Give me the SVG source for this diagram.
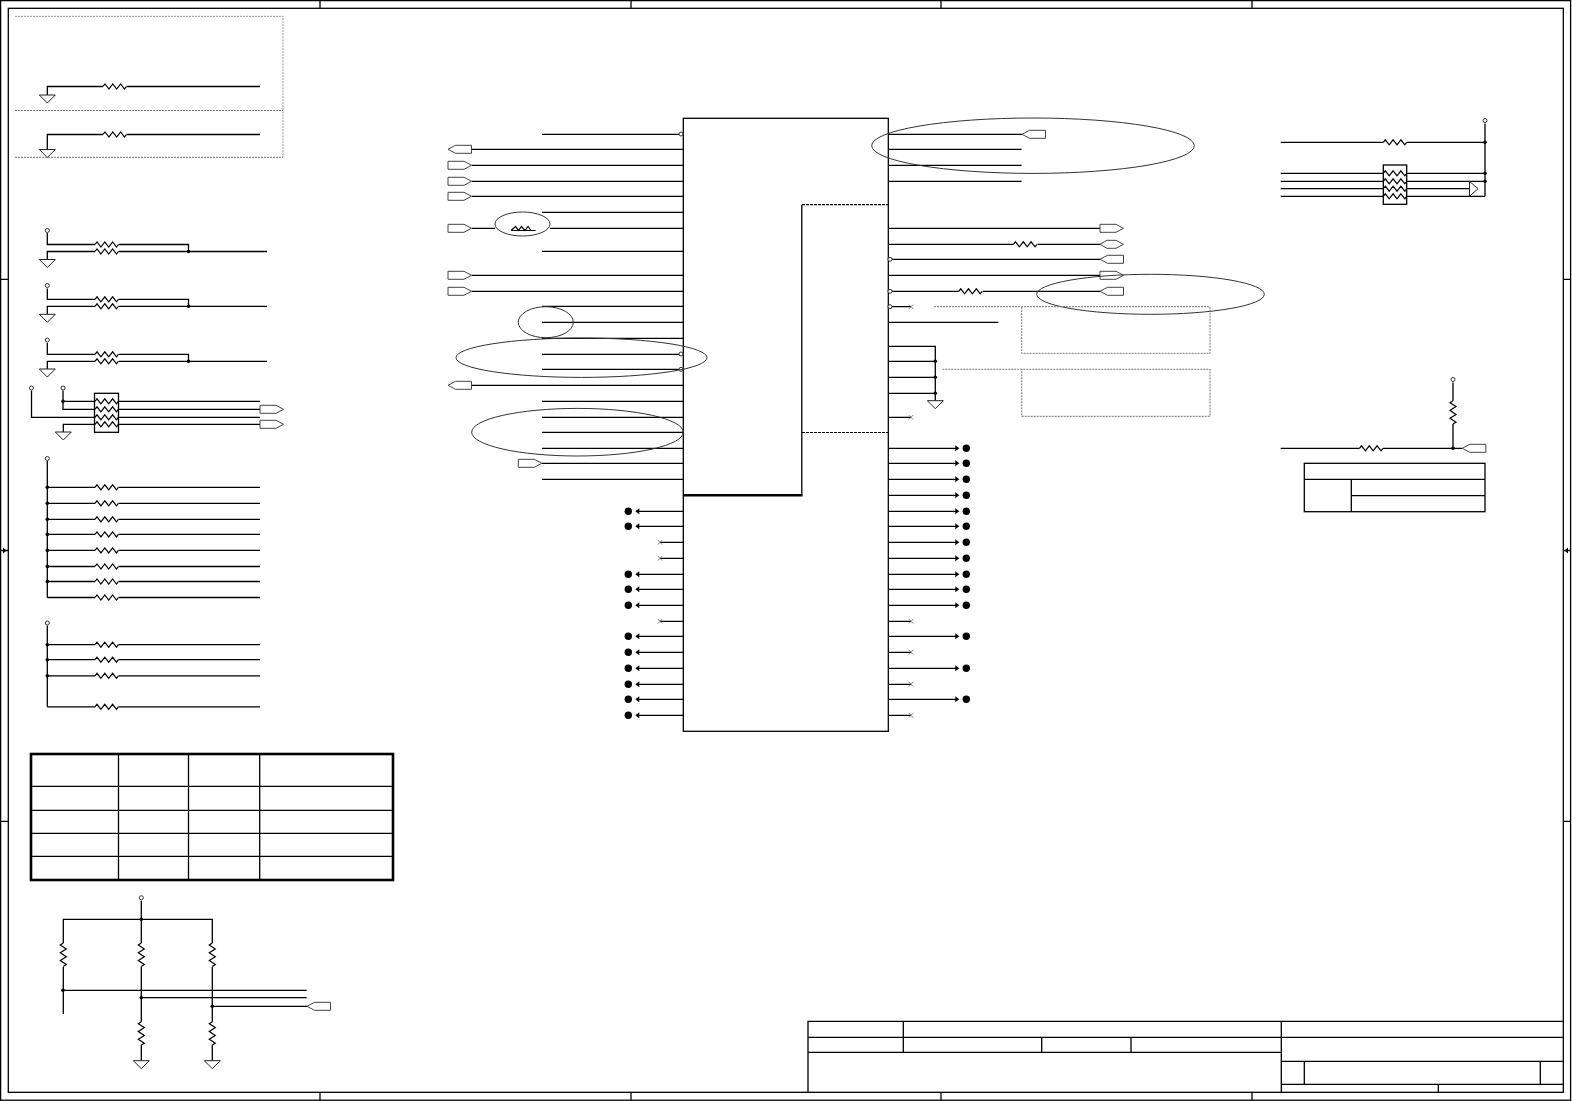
<svg xmlns="http://www.w3.org/2000/svg" width="1572" height="1101" viewBox="0 0 1572 1101">
<style>
.w{fill:none;stroke:#000;stroke-width:1.3}
.b{fill:none;stroke:#000;stroke-width:1.3}
.t{fill:none;stroke:#000;stroke-width:2.6}
.d{fill:none;stroke:#777;stroke-width:1;stroke-dasharray:2 1}
.dl{fill:none;stroke:#a8a8a8;stroke-width:1.2;stroke-dasharray:2 1}
.dm{fill:none;stroke:#000;stroke-width:1.2;stroke-dasharray:3 1}
.e{fill:none;stroke:#333;stroke-width:1}
.p{fill:#fff;stroke:#444;stroke-width:1}
.g{fill:#fff;stroke:#222;stroke-width:1}
.o{fill:#fff;stroke:#333;stroke-width:1}
.x{fill:none;stroke:#666;stroke-width:.8}
.r{fill:none;stroke:#000;stroke-width:1.2}
.k{fill:#000}
</style>
<defs>
<path id="rh" class="r" d="M0 0l2-2.5 3.900 5 3.900-5 3.900 5 3.900-5 3.900 5 1.900-2.500"/>
<path id="rv" class="r" d="M0 0l-3 2 6 3.900-6 3.900 6 3.900-6 3.900 6 3.900-3 1.900"/>
<path id="gnd" class="g" d="M-8 0H8L0 8Z"/>
<path id="pr" class="p" d="M0-4H16L23.500 0 16 4H0Z"/>
<path id="pl" class="p" d="M23.500-4H7.500L0 0 7.500 4H23.500Z"/>
<path id="ph" class="p" d="M0 0 7-4H16L23.500 0 16 4H7Z"/>
<circle id="bub" class="o" r="2"/>
<circle id="jn" class="k" r="1.800"/>
<path id="xm" class="x" d="M-2.300-2.300L2.300 2.300M-2.300 2.300L2.300-2.300"/>
<g id="dl"><circle class="k" r="3.700"/><path class="k" d="M7 0L11-3V3Z"/></g>
<g id="dr"><circle class="k" r="3.700"/><path class="k" d="M-7 0L-11-3V3Z"/></g>
</defs>
<rect width="1572" height="1101" fill="#fff"/>

<g id="frame">
<rect class="b" x="0.600" y="0.600" width="1570" height="1099.600"/>
<rect class="b" x="8.300" y="8.300" width="1555" height="1084"/>
<path class="w" d="M320 0V8M631 0V8M941 0V8M1252 0V8M320 1092V1100M631 1092V1100M941 1092V1100M1252 1092V1100M0 279.300H8M0 821.300H8M1564 279.300H1571M1564 821.300H1571M0 550.500H8M1564 550.500H1571"/>
<path class="k" d="M6.500 550.500L3 547.500V553.500ZM1564.500 550.500L1568 547.500V553.500Z"/>
</g>

<g id="connectors">
<path class="w" d="M47.300 95V86.500H103M126.500 86.500H260M47.300 149.500V134.500H103M126.500 134.500H260"/>
<path class="w" d="M47.300 233V244.500H95M118.500 244.500H188.500V251.500M47.300 259.500V251.500H95M118.500 251.500H267"/>
<path class="w" d="M47.300 288.500V299.300H95M118.500 299.300H188.500V306.300M47.300 314.300V306.300H95M118.500 306.300H267"/>
<path class="w" d="M47.300 343V354.300H95M118.500 354.300H188.500V361.300M47.300 369V361.300H95M118.500 361.300H267"/>
<path class="w" d="M31.500 390.500V417.300H94.500M63 390.500V409.300H94.500M63 401.300H94.500M63.300 432V424.300H94.500M118.500 401.300H260M118.500 409.300H260M118.500 417.300H260M118.500 424.300H260"/>
<path class="w" d="M47.300 461V597.500M47.300 487.300H95M118.500 487.300H260M47.300 503.300H95M118.500 503.300H260M47.300 519.300H95M118.500 519.300H260M47.300 534.400H95M118.500 534.400H260M47.300 550.400H95M118.500 550.400H260M47.300 566.500H95M118.500 566.500H260M47.300 581.500H95M118.500 581.500H260M47.300 597.500H95M118.500 597.500H260"/>
<path class="w" d="M47.300 625.500V706.800M47.300 644.700H95M118.500 644.700H260M47.300 659.700H95M118.500 659.700H260M47.300 675.800H95M118.500 675.800H260M47.300 706.800H95M118.500 706.800H260"/>
<path class="w" d="M141.300 900.700V943M63.300 943V919.300H212.300V943M63.300 966.700V1014M141.300 966.700V1021.700M212.300 966.700V1021.700M141.300 1045V1060.700M212.300 1045V1060.700M63.300 990.300H306.700M141.300 997.700H306.700M212.300 1006.300H307"/>
<path class="w" d="M542 134.300H679M471.700 149.300H683.300M471.700 165.300H683.300M471.700 181.300H683.300M471.700 196.300H683.300M542 212.300H683.300M471.700 228.300H495M550 228.300H683.300M542 251.300H683.300M471.700 275.300H683.300M471.700 291.300H683.300M542 306.300H683.300M542 322.300H683.300M542 338.300H683.300M542 354.300H679M542 369.300H679M471.700 385.300H683.300M542 401.300H683.300M542 417.300H683.300M542 432.300H683.300M542 448.300H683.300M541.700 463.300H683.300M542 479.300H683.300"/>
<path class="w" d="M638 511.300H683.300M638 526.300H683.300M660 542.300H683.300M660 558.300H683.300M638 574.300H683.300M638 589.300H683.300M638 605.300H683.300M660 621.300H683.300M638 636.300H683.300M638 652.300H683.300M638 668.300H683.300M638 684.300H683.300M638 699.300H683.300M638 715.300H683.300"/>
<path class="w" d="M888.300 134.300H1022M888.300 149.300H1021.700M888.300 165.300H1021.700M888.300 181.300H1021.700M888.300 228.300H1100M888.300 244.300H1013.500M1037.500 244.300H1100M892 259.300H1100M888.300 275.300H1100M892 291.300H958.700M982.700 291.300H1100M892 306.700H911M888.300 322.300H998.300M888.300 346.300H935.300V400.700M888.300 361.300H935.300M888.300 377.300H935.300M888.300 393.300H935.300M888.300 417.300H911"/>
<path class="w" d="M888.300 448.300H957M888.300 463.300H957M888.300 479.300H957M888.300 495.300H957M888.300 511.300H957M888.300 526.300H957M888.300 542.300H957M888.300 558.300H957M888.300 574.300H957M888.300 589.300H957M888.300 605.300H957M888.300 621.300H911M888.300 636.300H957M888.300 652.300H911M888.300 668.300H957M888.300 684.300H911M888.300 699.300H957M888.300 715.300H911"/>
<path class="w" d="M1280.700 142.300H1383.300M1406.700 142.300H1485M1485 123.500V196.300M1280.700 173.300H1383.300M1406.700 173.300H1485M1280.700 181.300H1383.300M1406.700 181.300H1485M1280.700 188.700H1383.300M1406.700 188.700H1469.500M1280.700 196.300H1383.300M1406.700 196.300H1485"/>
<path class="w" d="M1453 382.500V400.700M1453 424V448.300M1280.700 448.300H1359.500M1383 448.300H1462.300"/>
</g>

<g id="r-top">
<use href="#rh" x="103" y="86.500"/><use href="#gnd" x="47.300" y="95"/>
<use href="#rh" x="103" y="134.500"/><use href="#gnd" x="47.300" y="149.500"/>
<path class="dl" d="M15 16.300H283V157"/>
<path class="d" d="M15 110.500H283M15 157.300H283"/>
</g>
<g id="pair-1">
<use href="#bub" x="47.300" y="230.500"/><use href="#rh" x="95" y="244.500"/><use href="#rh" x="95" y="251.500"/><use href="#gnd" x="47.300" y="259.500"/><use href="#jn" x="188.500" y="251.500"/>
</g>
<g id="pair-2">
<use href="#bub" x="47.300" y="285.500"/><use href="#rh" x="95" y="299.300"/><use href="#rh" x="95" y="306.300"/><use href="#gnd" x="47.300" y="314.300"/><use href="#jn" x="188.500" y="306.300"/>
</g>
<g id="pair-3">
<use href="#bub" x="47.300" y="340"/><use href="#rh" x="95" y="354.300"/><use href="#rh" x="95" y="361.300"/><use href="#gnd" x="47.300" y="369"/><use href="#jn" x="188.500" y="361.300"/>
</g>
<g id="rn-left">
<rect class="w" x="94.500" y="393.300" width="24" height="39"/>
<use href="#rh" x="95" y="401.300"/><use href="#rh" x="95" y="409.300"/><use href="#rh" x="95" y="417.300"/><use href="#rh" x="95" y="424.300"/>
<use href="#bub" x="31.500" y="388"/><use href="#bub" x="63" y="388"/><use href="#jn" x="63" y="401.300"/><use href="#gnd" x="63.300" y="432"/>
<use href="#pr" x="260" y="409.300"/><use href="#pr" x="260" y="424.300"/>
</g>
<g id="pull-8">
<use href="#bub" x="47.300" y="458.500"/>
<use href="#rh" x="95" y="487.300"/><use href="#rh" x="95" y="503.300"/><use href="#rh" x="95" y="519.300"/><use href="#rh" x="95" y="534.400"/><use href="#rh" x="95" y="550.400"/><use href="#rh" x="95" y="566.500"/><use href="#rh" x="95" y="581.500"/><use href="#rh" x="95" y="597.500"/>
<use href="#jn" x="47.300" y="487.300"/><use href="#jn" x="47.300" y="503.300"/><use href="#jn" x="47.300" y="519.300"/><use href="#jn" x="47.300" y="534.400"/><use href="#jn" x="47.300" y="550.400"/><use href="#jn" x="47.300" y="566.500"/><use href="#jn" x="47.300" y="581.500"/>
</g>
<g id="pull-4">
<use href="#bub" x="47.300" y="623"/>
<use href="#rh" x="95" y="644.700"/><use href="#rh" x="95" y="659.700"/><use href="#rh" x="95" y="675.800"/><use href="#rh" x="95" y="706.800"/>
<use href="#jn" x="47.300" y="644.700"/><use href="#jn" x="47.300" y="659.700"/><use href="#jn" x="47.300" y="675.800"/>
</g>
<g id="table-left">
<rect class="t" x="31" y="754" width="362" height="126"/>
<path class="w" d="M118.500 754V880M188.500 754V880M259.700 754V880M31 786.300H393M31 810.300H393M31 833.300H393M31 856.300H393"/>
</g>
<g id="divider">
<use href="#bub" x="141.300" y="897.700"/><use href="#jn" x="141.300" y="919.300"/>
<use href="#rv" x="63.300" y="943"/><use href="#rv" x="141.300" y="943"/><use href="#rv" x="212.300" y="943"/>
<use href="#rv" x="141.300" y="1021.700"/><use href="#rv" x="212.300" y="1021.700"/>
<use href="#jn" x="63" y="990.300"/><use href="#jn" x="141.300" y="997.700"/><use href="#jn" x="212.300" y="1006.300"/>
<use href="#gnd" x="141.300" y="1060.700"/><use href="#gnd" x="212.300" y="1060.700"/>
<use href="#pl" x="307" y="1006.300"/>
</g>

<g id="ic">
<rect class="b" x="683.300" y="118.300" width="205" height="613"/>
<path class="t" d="M683.300 495.300H802.500"/>
<path class="w" d="M801.800 204.700V495"/>
<path class="dm" d="M802 204.700H888M802 432.500H888"/>
</g>
<g id="left-ports">
<use href="#pl" x="448" y="149.300"/><use href="#pr" x="448" y="165.300"/><use href="#pr" x="448" y="181.300"/><use href="#pr" x="448" y="196.300"/><use href="#pr" x="448" y="228.300"/><use href="#pr" x="448" y="275.300"/><use href="#pr" x="448" y="291.300"/><use href="#pl" x="448" y="385.300"/><use href="#pr" x="518.300" y="463.300"/>
<use href="#bub" x="681" y="134"/><use href="#bub" x="681" y="354"/><use href="#bub" x="681" y="369.300"/>
<path class="r" d="M511 230.500l4.500-4 3 4 3-4 3.500 4 3-4 3 4 4.500 0M511 230.500H535"/>
<ellipse class="e" cx="522.500" cy="224" rx="27.500" ry="12"/>
</g>
<g id="left-ellipses">
<ellipse class="e" cx="545.800" cy="322.200" rx="27.500" ry="15.500"/>
<ellipse class="e" cx="581.500" cy="357.700" rx="125.500" ry="19.700"/>
<ellipse class="e" cx="577.500" cy="432.200" rx="105.800" ry="23.800"/>
</g>
<g id="left-ends">
<use href="#dl" x="628.300" y="511.300"/><use href="#dl" x="628.300" y="526.300"/><use href="#xm" x="660" y="542.300"/><use href="#xm" x="660" y="558.300"/><use href="#dl" x="628.300" y="574.300"/><use href="#dl" x="628.300" y="589.300"/><use href="#dl" x="628.300" y="605.300"/><use href="#xm" x="660" y="621.300"/><use href="#dl" x="628.300" y="636.300"/><use href="#dl" x="628.300" y="652.300"/><use href="#dl" x="628.300" y="668.300"/><use href="#dl" x="628.300" y="684.300"/><use href="#dl" x="628.300" y="699.300"/><use href="#dl" x="628.300" y="715.300"/>
</g>
<g id="right-ports">
<use href="#pl" x="1022" y="134.300"/>
<use href="#pr" x="1100" y="228.300"/><use href="#ph" x="1100" y="244.300"/><use href="#pl" x="1100" y="259.300"/><use href="#pr" x="1100" y="275.300"/><use href="#pl" x="1100" y="291.300"/>
<use href="#rh" x="1013.500" y="244.300"/><use href="#rh" x="958.700" y="291.300"/>
<use href="#bub" x="890" y="259.300"/><use href="#bub" x="890" y="291.300"/><use href="#bub" x="890" y="306.700"/>
<use href="#xm" x="911" y="306.700"/><use href="#xm" x="911" y="417.300"/>
<use href="#jn" x="935.300" y="361.300"/><use href="#jn" x="935.300" y="377.300"/><use href="#jn" x="935.300" y="393.300"/><use href="#gnd" x="935.300" y="400.700"/>
<ellipse class="e" cx="1033" cy="145.700" rx="161.300" ry="27.700"/>
<ellipse class="e" cx="1150.500" cy="294.300" rx="113.800" ry="20"/>
<path class="d" d="M934 306.700H1210V353.300H1021.700V306.700M942.300 369.300H1210V416.300H1021.700V369.300"/>
</g>
<g id="right-ends">
<use href="#dr" x="966.300" y="448.300"/><use href="#dr" x="966.300" y="463.300"/><use href="#dr" x="966.300" y="479.300"/><use href="#dr" x="966.300" y="495.300"/><use href="#dr" x="966.300" y="511.300"/><use href="#dr" x="966.300" y="526.300"/><use href="#dr" x="966.300" y="542.300"/><use href="#dr" x="966.300" y="558.300"/><use href="#dr" x="966.300" y="574.300"/><use href="#dr" x="966.300" y="589.300"/><use href="#dr" x="966.300" y="605.300"/><use href="#xm" x="911" y="621.300"/><use href="#dr" x="966.300" y="636.300"/><use href="#xm" x="911" y="652.300"/><use href="#dr" x="966.300" y="668.300"/><use href="#xm" x="911" y="684.300"/><use href="#dr" x="966.300" y="699.300"/><use href="#xm" x="911" y="715.300"/>
</g>
<g id="rn-right">
<use href="#bub" x="1485" y="120.500"/><use href="#rh" x="1383.300" y="142.300"/><use href="#jn" x="1485" y="142.300"/>
<rect class="w" x="1383.300" y="165" width="23.400" height="39.300"/>
<use href="#rh" x="1383.300" y="173.300"/><use href="#rh" x="1383.300" y="181.300"/><use href="#rh" x="1383.300" y="188.700"/><use href="#rh" x="1383.300" y="196.300"/>
<use href="#jn" x="1485" y="173.300"/><use href="#jn" x="1485" y="181.300"/>
<path class="g" d="M1469.500 181.300L1478 188.700L1469.500 196.300Z"/>
</g>
<g id="pullup-right">
<use href="#bub" x="1453" y="379.500"/><use href="#rv" x="1453" y="400.700"/><use href="#rh" x="1359.500" y="448.300"/><use href="#jn" x="1453" y="448.300"/><use href="#pl" x="1462.300" y="448.300"/>
</g>
<g id="table-right">
<rect class="w" x="1304.300" y="463.300" width="180.700" height="48.400"/>
<path class="w" d="M1304.300 479.300H1485M1351.300 479.300V511.700M1351.300 495.700H1485"/>
</g>
<g id="title-block">
<path class="b" d="M808 1092V1021.300H1563.300M808 1037.300H1563.300M808 1052.300H1281.300M903.300 1021.300V1052.300M1041.700 1037.300V1052.300M1131 1037.300V1052.300M1281.300 1021.300V1092M1281.300 1061.300H1563.300M1281.300 1084.300H1563.300M1304.300 1061.300V1084.300M1540.300 1061.300V1084.300M1438.300 1084.300V1092"/>
</g>
</svg>
